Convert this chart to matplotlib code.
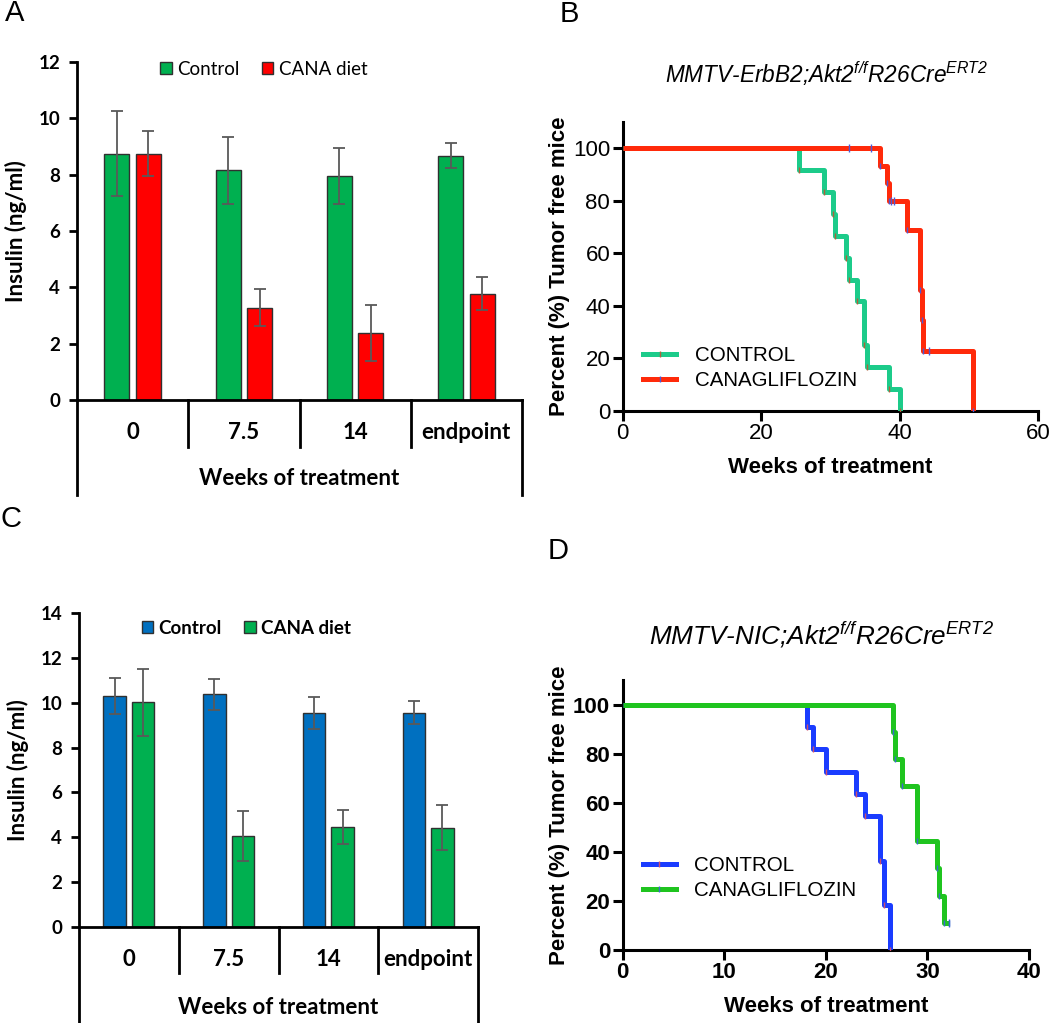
import matplotlib
matplotlib.use('Agg')
import matplotlib.pyplot as plt
import matplotlib.transforms as mtransforms
from matplotlib.lines import Line2D
import numpy as np

plt.rcParams['mathtext.fontset'] = 'custom'
plt.rcParams['mathtext.rm'] = 'Liberation Sans:italic'
plt.rcParams['mathtext.it'] = 'Liberation Sans:italic'

# ---- data ----
weeks_cats = ['0', '7.5', '14', 'endpoint']

# panel A (insulin, ng/ml)
a_ctrl = [8.75, 8.15, 7.95, 8.68]
a_ctrl_err = [1.5, 1.18, 1.0, 0.45]
a_cana = [8.75, 3.27, 2.39, 3.78]
a_cana_err = [0.8, 0.66, 1.0, 0.6]

# panel C (insulin, ng/ml)
c_ctrl = [10.28, 10.37, 9.55, 9.55]
c_ctrl_err = [0.8, 0.7, 0.72, 0.52]
c_cana = [10.01, 4.07, 4.44, 4.43]
c_cana_err = [1.48, 1.12, 0.76, 1.0]

# panel B survival (weeks, % tumor free)
b_ctrl_t = [0, 25.5, 29.1, 30.3, 30.6, 32.2, 32.6, 33.8, 34.9, 35.2, 38.4, 40.1]
b_ctrl_s = [100, 91.7, 83.3, 75.0, 66.7, 58.3, 50.0, 41.7, 25.0, 16.7, 8.3, 0]
b_cana_t = [0, 37.2, 38.2, 38.4, 41.1, 42.9, 43.2, 43.4, 50.6]
b_cana_s = [100, 93.3, 86.7, 80.0, 68.9, 45.9, 34.4, 22.9, 0]
b_cana_cens_t = [32.7, 35.8, 38.7, 39.1, 44.2]
b_cana_cens_s = [100, 100, 80, 80, 22.9]

# panel D survival
d_ctrl_t = [0, 18.15, 18.7, 20.0, 23.0, 23.85, 25.3, 25.75, 26.3]
d_ctrl_s = [100, 90.9, 81.8, 72.7, 63.6, 54.5, 36.4, 18.2, 0]
d_cana_t = [0, 26.6, 26.85, 27.5, 29.0, 30.9, 31.15, 31.65, 32.1]
d_cana_s = [100, 88.9, 77.8, 66.7, 44.4, 33.3, 22.2, 11.1, 11.1]

bar_font = 'Lato'
gp_font = 'Liberation Sans'


def bar_panel(ax, ctrl, ctrl_err, cana, cana_err, colors, ymax, legend_bold,
              sep_depth, box_depth, cat_y, xlab_y, leg_anchor):
    x = np.arange(len(weeks_cats))
    w = 0.225
    ekw = dict(ecolor='#595959', elinewidth=1.3, capsize=4, capthick=1.3)
    ax.bar(x - 0.142, ctrl, w, color=colors[0], edgecolor='#303030', linewidth=1,
           yerr=ctrl_err, error_kw=ekw, label='Control', zorder=2)
    ax.bar(x + 0.142, cana, w, color=colors[1], edgecolor='#303030', linewidth=1,
           yerr=cana_err, error_kw=ekw, label='CANA diet', zorder=2)
    ax.set_xlim(-0.5, 3.5)
    ax.set_ylim(0, ymax)
    ax.set_yticks(np.arange(0, ymax + 1, 2))
    for s in ['top', 'right']:
        ax.spines[s].set_visible(False)
    ax.spines['left'].set_linewidth(2)
    ax.spines['bottom'].set_linewidth(2)
    ax.set_xticks([])
    ax.tick_params(axis='y', direction='out', length=6, width=2, pad=6)
    for lab in ax.get_yticklabels():
        lab.set_fontfamily(bar_font)
        lab.set_fontweight('bold')
        lab.set_fontsize(13.5)
    ax.set_ylabel('Insulin (ng/ml)', fontfamily=bar_font, fontweight='bold',
                  fontsize=16, labelpad=8)

    # category table under the x axis
    trans = mtransforms.blended_transform_factory(ax.transData, ax.transAxes)
    for xs in [0.5, 1.5, 2.5]:
        ax.plot([xs, xs], [0, -sep_depth], transform=trans, color='black',
                lw=2, clip_on=False)
    for xs in [-0.5, 3.5]:
        ax.plot([xs, xs], [0, -box_depth], transform=trans, color='black',
                lw=2, clip_on=False)
    for i, c in enumerate(weeks_cats):
        ax.text(i, cat_y, c, transform=trans, ha='center', va='center',
                fontfamily=bar_font, fontweight='bold', fontsize=16)
    ax.text(1.5, xlab_y, 'Weeks of treatment', transform=trans, ha='center',
            va='center', fontfamily=bar_font, fontweight='bold', fontsize=16)

    leg = ax.legend(loc='center', bbox_to_anchor=leg_anchor, ncol=2, frameon=False,
                    handlelength=0.6, handleheight=0.6, handletextpad=0.3,
                    columnspacing=1.2, borderpad=0,
                    prop=dict(family=bar_font, size=13.5,
                              weight='bold' if legend_bold else 'normal'))
    return leg


def km_panel(ax, curves, xmax, xstep, bold_ticks, title, title_size, title_xy,
             leg_anchor):
    handles = []
    for t, s, color, label, tick_color, cens in curves:
        ax.plot(t, s, drawstyle='steps-post', color=color, lw=3.6,
                solid_capstyle='butt', zorder=3)
        ax.plot(t[1:], s[1:], ls='none', marker='|', markersize=5,
                mew=1, color=tick_color, zorder=4)
        if cens is not None:
            ax.plot(cens[0], cens[1], ls='none', marker='|', markersize=6,
                    mew=1, color=tick_color, zorder=4)
        handles.append(Line2D([], [], color=color, lw=3.6, marker='|',
                              markersize=5, mew=1, mec=tick_color, label=label))
    ax.set_xlim(0, xmax)
    ax.set_ylim(0, 110)
    ax.set_xticks(np.arange(0, xmax + 1, xstep))
    ax.set_yticks([0, 20, 40, 60, 80, 100])
    for s in ['top', 'right']:
        ax.spines[s].set_visible(False)
    ax.spines['left'].set_linewidth(2.2)
    ax.spines['bottom'].set_linewidth(2.2)
    ax.tick_params(direction='out', length=7, width=2.2, pad=2)
    weight = 'bold' if bold_ticks else 'normal'
    for lab in ax.get_xticklabels() + ax.get_yticklabels():
        lab.set_fontfamily(gp_font)
        lab.set_fontweight(weight)
        lab.set_fontsize(16)
    ax.set_ylabel('Percent (%) Tumor free mice', fontfamily=gp_font,
                  fontweight='bold', fontsize=16, labelpad=2)
    ax.set_xlabel('Weeks of treatment', fontfamily=gp_font, fontweight='bold',
                  fontsize=16, labelpad=9)
    ax.legend(handles=handles, loc='lower left', bbox_to_anchor=leg_anchor,
              frameon=False, handlelength=1.6, handletextpad=0.9,
              labelspacing=0.3, borderpad=0, borderaxespad=0,
              prop=dict(family=gp_font, size=14.8))
    fig.text(title_xy[0], title_xy[1], title, ha='center', va='center',
             fontfamily=gp_font, style='italic', fontsize=title_size)


fig = plt.figure(figsize=(10.5, 10.23), dpi=100)

W, H = 1050.0, 1023.0


def axes_px(l, r, top, bot):
    return fig.add_axes([l / W, 1 - bot / H, (r - l) / W, (bot - top) / H])


# Panel A
axA = axes_px(77, 522, 62, 400)
bar_panel(axA, a_ctrl, a_ctrl_err, a_cana, a_cana_err, ['#00B050', '#FF0000'],
          12, False, 0.139, 0.28, -0.095, -0.231, (0.42, 0.978))

# Panel C
axC = axes_px(79, 478, 613, 927)
bar_panel(axC, c_ctrl, c_ctrl_err, c_cana, c_cana_err, ['#0070C0', '#00B050'],
          14, True, 0.146, 0.31, -0.102, -0.255, (0.42, 0.952))

# Panel B
axB = axes_px(622.7, 1038.3, 122.1, 410.7)
km_panel(axB,
         [(b_ctrl_t, b_ctrl_s, '#1CCB8A', 'CONTROL', '#B0603A', None),
          (b_cana_t, b_cana_s, '#FF2A0A', 'CANAGLIFLOZIN', '#4A5AD8',
           (b_cana_cens_t, b_cana_cens_s))],
         60, 20, False,
         'MMTV-ErbB2;Akt2$^{f/f}$R26Cre$^{ERT2}$', 16.3, (827 / W, 1 - 74 / H),
         (0.05, 0.07))

# Panel D
axD = axes_px(622.7, 1029, 680, 950)
km_panel(axD,
         [(d_ctrl_t, d_ctrl_s, '#1A3CFF', 'CONTROL', '#D0506A', None),
          (d_cana_t, d_cana_s, '#1FC41F', 'CANAGLIFLOZIN', '#3A6AD0',
           ([32.1], [11.1]))],
         40, 10, True,
         'MMTV-NIC;Akt2$^{f/f}$R26Cre$^{ERT2}$', 18.8, (822 / W, 1 - 635 / H),
         (0.05, 0.185))

# panel letters
for letter, x, y in [('A', 5, 13), ('B', 560, 14), ('C', 0, 519), ('D', 548, 551)]:
    fig.text(x / W, 1 - y / H, letter, ha='left', va='center',
             fontfamily=gp_font, fontsize=21)

fig.savefig('out.png', dpi=100)
